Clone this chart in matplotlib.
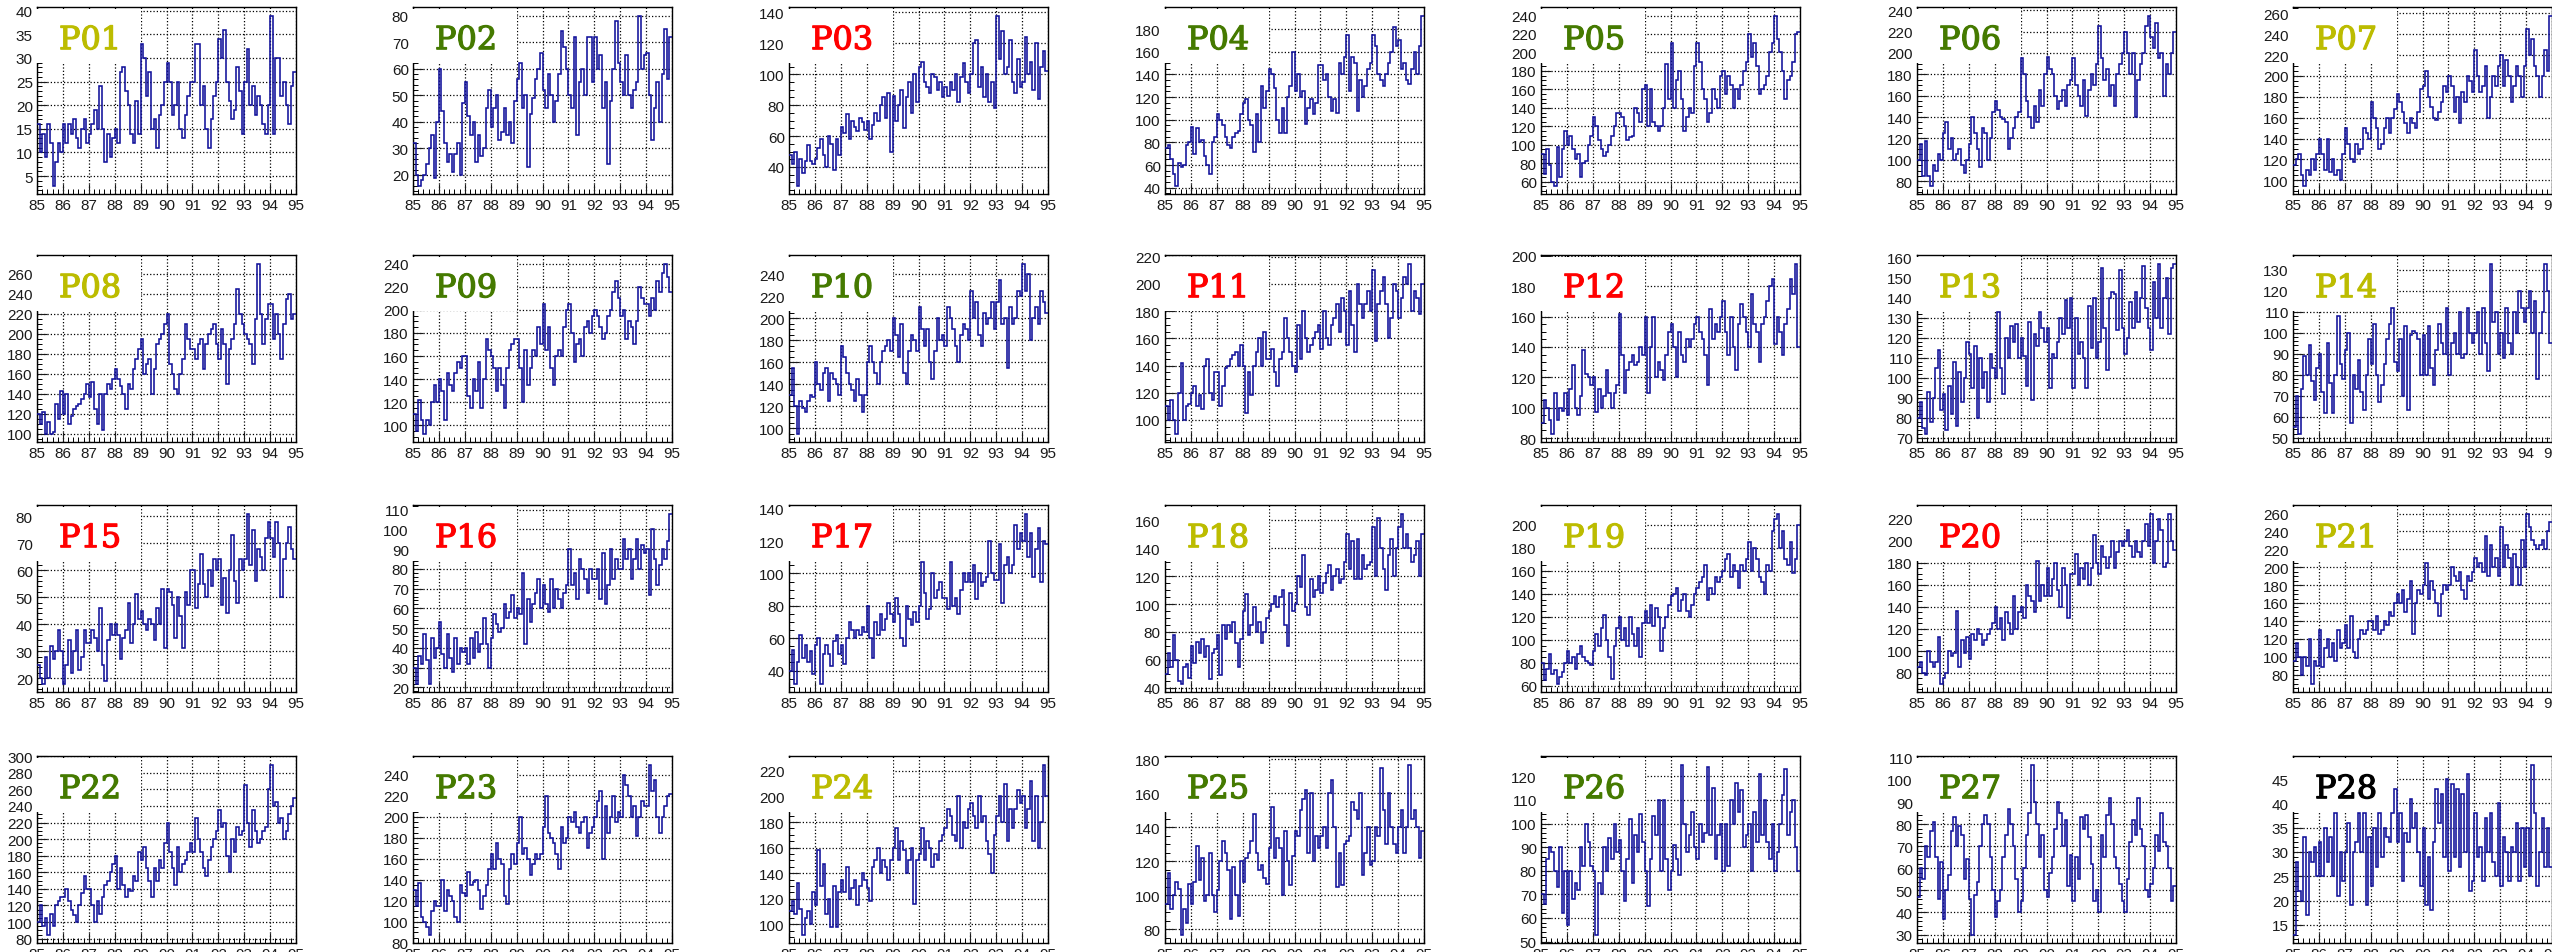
import numpy as np
import matplotlib
matplotlib.use("Agg")
import matplotlib.pyplot as plt
import matplotlib.patheffects as pe
from matplotlib.ticker import MultipleLocator, AutoMinorLocator
from matplotlib.patches import Rectangle

# x axis: years 85..95, 10 values per year in every series
years = list(range(85, 96))

p01 = [16, 10, 14, 9, 16, 12, 3, 8, 12, 10,
       16, 12, 16, 14, 17, 13, 11, 15, 17, 12,
       14, 16, 19, 15, 24, 15, 8, 14, 9, 13,
       15, 12, 27, 28, 23, 20, 14, 12, 21, 14,
       33, 30, 22, 27, 15, 17, 11, 18, 20, 25,
       29, 25, 18, 20, 25, 15, 13, 18, 22, 25,
       25, 33, 33, 20, 24, 15, 11, 17, 22, 25,
       34, 30, 36, 25, 21, 17, 19, 28, 23, 14,
       25, 32, 20, 24, 18, 22, 20, 16, 14, 20,
       39, 14, 30, 30, 22, 25, 20, 16, 24, 27]
p02 = [32, 20, 16, 18, 20, 24, 30, 35, 19, 40,
       60, 44, 32, 25, 28, 21, 28, 32, 20, 47,
       55, 42, 35, 40, 25, 35, 27, 30, 45, 52,
       38, 45, 50, 33, 36, 45, 35, 40, 32, 48,
       56, 62, 45, 50, 23, 43, 49, 56, 60, 66,
       52, 45, 58, 50, 40, 48, 58, 74, 68, 60,
       50, 45, 72, 35, 55, 60, 50, 72, 72, 55,
       72, 60, 65, 45, 55, 24, 48, 60, 78, 62,
       55, 50, 65, 50, 45, 52, 55, 80, 60, 65,
       66, 50, 33, 45, 55, 40, 58, 75, 56, 72]
p03 = [48, 42, 50, 28, 45, 36, 44, 54, 44, 42,
       45, 52, 58, 48, 40, 60, 55, 38, 58, 48,
       66, 62, 74, 58, 70, 66, 63, 72, 69, 64,
       70, 58, 67, 75, 70, 80, 85, 72, 88, 50,
       86, 70, 80, 90, 65, 85, 95, 75, 100, 82,
       105, 108, 95, 92, 88, 100, 98, 90, 95, 85,
       92, 86, 95, 90, 100, 82, 98, 107, 95, 88,
       100, 120, 122, 92, 105, 85, 100, 82, 95, 78,
       138, 110, 128, 100, 105, 122, 95, 88, 110, 92,
       95, 124, 100, 108, 90, 120, 84, 105, 115, 102]
p04 = [75, 78, 65, 52, 42, 62, 58, 60, 78, 80,
       94, 70, 93, 80, 82, 68, 60, 52, 80, 85,
       105, 100, 95, 85, 78, 75, 85, 88, 90, 105,
       115, 118, 100, 95, 72, 105, 80, 130, 110, 125,
       145, 140, 128, 100, 88, 110, 88, 120, 130, 160,
       125, 140, 120, 125, 96, 110, 118, 105, 115, 148,
       148, 135, 140, 120, 108, 118, 106, 150, 140, 155,
       175, 125, 155, 150, 108, 135, 120, 130, 145, 150,
       175, 165, 140, 135, 130, 140, 150, 160, 182, 165,
       170, 145, 150, 135, 132, 145, 160, 140, 165, 192]
p05 = [90, 68, 95, 78, 60, 56, 98, 65, 95, 115,
       100, 110, 95, 85, 90, 65, 80, 82, 100, 110,
       130, 120, 105, 95, 88, 92, 100, 110, 120, 135,
       135, 130, 120, 105, 108, 110, 140, 135, 125, 160,
       165, 120, 160, 125, 120, 115, 120, 140, 188, 150,
       210, 140, 170, 180, 150, 115, 130, 140, 135, 185,
       210, 190, 160, 150, 125, 135, 160, 150, 140, 175,
       180, 155, 175, 165, 140, 160, 150, 165, 180, 190,
       220, 195, 210, 185, 155, 160, 165, 175, 200, 210,
       240, 215, 200, 180, 150, 170, 175, 190, 220, 222]
p06 = [100, 115, 85, 118, 85, 76, 95, 90, 105, 100,
       125, 135, 110, 120, 100, 105, 110, 95, 88, 100,
       115, 140, 125, 110, 93, 130, 125, 100, 120, 145,
       155, 147, 140, 138, 135, 110, 120, 130, 140, 145,
       195, 180, 155, 140, 130, 150, 135, 165, 150, 180,
       196, 185, 180, 160, 148, 155, 165, 150, 170, 175,
       195, 170, 160, 150, 175, 141, 165, 180, 170, 190,
       225, 195, 175, 185, 160, 170, 150, 180, 190, 200,
       220, 200, 180, 200, 140, 175, 190, 200, 225, 235,
       215, 205, 228, 195, 200, 160, 190, 180, 200, 220]
p07 = [115, 120, 125, 105, 95, 110, 105, 120, 110, 125,
       140, 125, 110, 140, 108, 120, 105, 110, 100, 125,
       150, 135, 120, 118, 135, 125, 130, 150, 145, 140,
       175, 160, 150, 130, 135, 150, 160, 145, 160, 168,
       183, 175, 165, 155, 145, 160, 155, 150, 165, 188,
       190, 205, 180, 170, 160, 158, 165, 175, 190, 185,
       200, 190, 165, 180, 155, 185, 175, 200, 195, 185,
       225, 200, 185, 190, 210, 160, 180, 200, 190, 210,
       220, 190, 215, 200, 175, 190, 210, 200, 180, 210,
       245, 220, 235, 210, 200, 180, 200, 225, 205, 258]
p08 = [120, 110, 122, 100, 112, 100, 102, 130, 115, 143,
       120, 140, 110, 118, 125, 128, 130, 135, 140, 150,
       137, 152, 125, 110, 140, 104, 140, 150, 145, 155,
       165, 155, 148, 140, 125, 150, 145, 165, 175, 185,
       195, 160, 170, 175, 140, 165, 190, 195, 200, 210,
       220, 170, 160, 145, 140, 160, 175, 210, 195, 185,
       185, 175, 190, 195, 165, 190, 200, 205, 210, 190,
       175, 205, 190, 150, 185, 195, 210, 245, 220, 210,
       200, 195, 190, 170, 215, 270, 220, 190, 215, 230,
       230, 195, 220, 200, 175, 210, 235, 240, 215, 220]
p09 = [110, 95, 122, 105, 93, 105, 100, 120, 135, 120,
       140, 130, 105, 145, 135, 130, 145, 155, 150, 160,
       160, 125, 115, 140, 130, 155, 115, 140, 175, 165,
       160, 150, 130, 150, 135, 115, 150, 165, 170, 175,
       175, 150, 120, 165, 135, 150, 165, 160, 185, 170,
       205, 165, 185, 150, 135, 160, 165, 160, 185, 200,
       205, 180, 155, 170, 175, 160, 185, 190, 180, 195,
       200, 195, 185, 175, 180, 195, 200, 215, 225, 210,
       195, 200, 175, 190, 185, 170, 190, 220, 210, 205,
       205, 195, 210, 200, 225, 215, 232, 240, 228, 215]
p10 = [130, 155, 120, 95, 125, 118, 115, 125, 130, 128,
       160, 140, 135, 150, 155, 125, 150, 145, 140, 130,
       175, 165, 150, 140, 135, 125, 145, 130, 115, 130,
       160, 175, 160, 150, 140, 160, 170, 175, 180, 170,
       200, 185, 165, 195, 150, 140, 170, 185, 180, 170,
       210, 190, 175, 190, 160, 145, 170, 200, 180, 185,
       175, 210, 200, 190, 175, 160, 185, 195, 190, 180,
       225, 200, 215, 185, 175, 205, 195, 200, 215, 190,
       215, 235, 195, 200, 155, 210, 195, 200, 225, 220,
       250, 225, 240, 180, 200, 210, 195, 225, 215, 205]
p11 = [110, 100, 115, 100, 90, 120, 142, 100, 110, 112,
       120, 125, 110, 118, 108, 140, 145, 120, 115, 135,
       135, 110, 125, 138, 140, 145, 148, 150, 140, 155,
       140, 105, 135, 118, 140, 150, 160, 140, 165, 145,
       145, 152, 135, 125, 145, 150, 175, 160, 150, 140,
       135, 170, 145, 180, 160, 150, 155, 160, 165, 170,
       152, 180, 160, 155, 170, 175, 185, 165, 190, 180,
       155, 195, 170, 150, 200, 185, 175, 185, 195, 180,
       210, 158, 185, 195, 205, 185, 160, 175, 200, 195,
       175, 190, 205, 200, 215, 180, 195, 190, 178, 200]
p12 = [90, 105, 100, 92, 83, 110, 92, 100, 98, 110,
       95, 112, 128, 100, 95, 108, 138, 122, 120, 115,
       120, 97, 112, 100, 108, 125, 110, 100, 110, 115,
       162, 135, 110, 125, 130, 135, 128, 130, 140, 135,
       160, 110, 140, 160, 120, 130, 125, 118, 135, 150,
       155, 140, 120, 150, 135, 130, 145, 140, 145, 155,
       160, 150, 145, 135, 115, 165, 145, 155, 150, 160,
       170, 150, 135, 160, 140, 125, 155, 168, 160, 150,
       140, 175, 155, 150, 130, 155, 160, 170, 180, 185,
       142, 160, 150, 135, 155, 165, 185, 175, 195, 140]
p13 = [80, 88, 75, 72, 93, 78, 90, 105, 114, 84,
       92, 74, 96, 82, 108, 76, 103, 88, 100, 118,
       112, 95, 116, 80, 110, 95, 103, 88, 112, 105,
       100, 133, 105, 92, 120, 110, 126, 118, 127, 110,
       120, 111, 96, 128, 89, 122, 116, 133, 125, 118,
       125, 95, 112, 110, 118, 130, 122, 139, 125, 140,
       95, 130, 112, 118, 110, 95, 136, 115, 140, 110,
       118, 155, 125, 104, 140, 143, 142, 124, 154, 125,
       112, 120, 138, 125, 143, 128, 140, 156, 135, 125,
       114, 148, 130, 157, 125, 140, 150, 122, 155, 157]
p14 = [55, 70, 52, 73, 89, 80, 94, 77, 68, 83,
       90, 72, 62, 95, 76, 62, 80, 108, 85, 78,
       92, 100, 57, 80, 73, 87, 72, 63, 80, 97,
       85, 104, 80, 67, 75, 85, 97, 104, 112, 86,
       82, 97, 70, 103, 63, 99, 101, 100, 97, 80,
       99, 80, 103, 83, 75, 92, 104, 95, 90, 112,
       80, 95, 100, 90, 110, 88, 90, 112, 100, 95,
       100, 110, 90, 112, 95, 82, 133, 105, 110, 90,
       100, 88, 112, 95, 90, 110, 100, 120, 112, 105,
       112, 120, 100, 115, 78, 100, 110, 133, 120, 95]
p15 = [25, 20, 18, 28, 20, 32, 27, 30, 38, 30,
       18, 25, 34, 22, 30, 38, 23, 28, 38, 33,
       33, 38, 35, 30, 46, 25, 19, 34, 40, 36,
       40, 36, 27, 35, 38, 48, 33, 40, 51, 42,
       45, 40, 38, 42, 40, 34, 46, 40, 53, 31,
       53, 52, 47, 35, 50, 43, 31, 52, 47, 60,
       60, 46, 55, 66, 55, 50, 60, 54, 64, 60,
       64, 47, 57, 44, 60, 73, 56, 48, 64, 60,
       64, 81, 62, 75, 56, 68, 65, 60, 72, 78,
       72, 65, 78, 70, 50, 64, 70, 76, 68, 64]
p16 = [30, 22, 36, 32, 47, 34, 22, 45, 35, 40,
       53, 37, 30, 47, 35, 28, 45, 32, 40, 38,
       40, 32, 45, 35, 48, 38, 42, 55, 42, 30,
       45, 57, 52, 48, 50, 62, 55, 58, 67, 55,
       60, 57, 78, 42, 65, 53, 62, 68, 75, 60,
       72, 62, 58, 75, 60, 70, 65, 60, 68, 72,
       90, 72, 78, 65, 85, 80, 75, 68, 80, 75,
       75, 80, 65, 88, 62, 72, 90, 75, 85, 80,
       80, 95, 85, 90, 75, 85, 95, 80, 92, 88,
       90, 67, 100, 85, 72, 82, 90, 85, 94, 108]
p17 = [40, 53, 32, 45, 62, 48, 56, 45, 52, 38,
       56, 60, 32, 50, 56, 50, 43, 58, 62, 50,
       56, 44, 60, 70, 65, 60, 65, 62, 67, 64,
       80, 60, 48, 70, 62, 75, 65, 72, 82, 75,
       70, 85, 75, 60, 55, 80, 72, 68, 76, 70,
       80, 107, 88, 72, 78, 100, 85, 90, 95, 85,
       85, 78, 107, 80, 85, 75, 90, 100, 95, 100,
       95, 105, 84, 100, 92, 95, 98, 120, 100, 96,
       96, 118, 82, 105, 110, 100, 105, 130, 115, 125,
       120, 137, 110, 125, 98, 115, 128, 95, 120, 118]
p18 = [50, 65, 55, 78, 60, 45, 43, 55, 57, 47,
       70, 58, 73, 65, 75, 62, 70, 46, 65, 68,
       78, 49, 85, 75, 85, 80, 87, 72, 55, 75,
       95, 107, 78, 85, 98, 80, 87, 72, 80, 90,
       95, 100, 106, 98, 105, 110, 85, 70, 108, 95,
       100, 120, 112, 135, 98, 92, 118, 105, 110, 120,
       108, 115, 122, 128, 110, 120, 125, 115, 118, 130,
       150, 125, 145, 118, 147, 118, 135, 125, 128, 130,
       155, 120, 162, 140, 125, 110, 135, 147, 120, 140,
       155, 165, 140, 150, 140, 130, 135, 145, 120, 150]
p19 = [80, 65, 75, 88, 70, 74, 62, 68, 72, 80,
       90, 80, 85, 75, 88, 95, 85, 82, 80, 78,
       90, 105, 95, 110, 122, 100, 85, 66, 95, 110,
       120, 100, 110, 95, 120, 105, 95, 110, 85, 115,
       125, 115, 130, 112, 128, 120, 90, 110, 120, 130,
       138, 140, 145, 125, 135, 140, 125, 120, 130, 140,
       145, 150, 155, 165, 135, 145, 140, 155, 150, 155,
       160, 170, 175, 155, 165, 160, 145, 165, 160, 170,
       185, 160, 180, 170, 155, 150, 140, 165, 160, 195,
       205, 210, 180, 195, 170, 165, 185, 158, 170, 200]
p20 = [85, 90, 80, 78, 100, 90, 85, 90, 112, 70,
       75, 80, 100, 95, 98, 136, 85, 110, 98, 112,
       92, 115, 110, 120, 115, 105, 110, 115, 120, 125,
       140, 120, 130, 110, 135, 125, 115, 150, 120, 135,
       140, 130, 160, 150, 145, 135, 182, 145, 160, 150,
       175, 150, 165, 180, 155, 140, 175, 160, 130, 170,
       170, 188, 160, 175, 165, 180, 160, 175, 205, 180,
       170, 195, 185, 175, 185, 200, 175, 190, 200, 195,
       200, 210, 195, 185, 200, 190, 185, 200, 215, 195,
       225, 180, 200, 220, 210, 176, 180, 225, 200, 192]
p21 = [95, 115, 100, 80, 100, 90, 120, 70, 95, 90,
       130, 88, 110, 120, 100, 115, 95, 130, 110, 115,
       135, 110, 145, 105, 98, 120, 130, 125, 130, 140,
       140, 130, 145, 125, 130, 140, 135, 150, 145, 160,
       170, 160, 175, 150, 165, 185, 125, 160, 175, 170,
       180, 205, 165, 185, 175, 160, 145, 170, 180, 175,
       180, 200, 190, 185, 195, 175, 165, 190, 185, 195,
       210, 200, 205, 195, 235, 190, 225, 200, 210, 190,
       245, 200, 225, 210, 180, 215, 200, 180, 230, 200,
       260, 245, 230, 225, 220, 225, 230, 220, 240, 250]
p22 = [100, 120, 95, 105, 85, 110, 95, 120, 125, 130,
       130, 140, 125, 115, 108, 100, 120, 135, 155, 140,
       140, 120, 100, 125, 110, 130, 145, 150, 160, 170,
       180, 140, 165, 145, 130, 140, 138, 155, 150, 185,
       175, 190, 165, 150, 130, 165, 150, 175, 165, 195,
       220, 185, 165, 145, 190, 160, 170, 175, 185, 195,
       185, 225, 200, 185, 165, 155, 175, 190, 200, 210,
       235, 215, 220, 180, 160, 200, 185, 215, 205, 210,
       265, 220, 190, 235, 210, 195, 200, 210, 215, 260,
       290, 240, 245, 220, 225, 200, 210, 230, 240, 250]
p23 = [130, 115, 137, 105, 100, 95, 88, 110, 120, 115,
       115, 140, 110, 130, 125, 120, 105, 100, 135, 128,
       125, 148, 135, 138, 140, 130, 112, 125, 135, 150,
       165, 150, 175, 160, 155, 125, 117, 150, 165, 155,
       175, 200, 165, 170, 160, 145, 155, 165, 160, 165,
       190, 220, 185, 180, 175, 165, 150, 190, 175, 180,
       200, 195, 205, 190, 185, 195, 200, 170, 185, 190,
       200, 215, 225, 160, 210, 185, 200, 220, 195, 205,
       200, 240, 230, 220, 200, 210, 182, 200, 215, 210,
       210, 250, 225, 235, 200, 185, 200, 210, 220, 222]
p24 = [110, 118, 108, 132, 112, 92, 105, 110, 100, 125,
       115, 158, 130, 147, 108, 120, 98, 130, 98, 125,
       135, 125, 145, 120, 128, 135, 115, 130, 140, 135,
       128, 118, 145, 150, 160, 140, 150, 145, 135, 150,
       160, 175, 150, 165, 158, 140, 150, 160, 116, 150,
       155, 175, 150, 165, 160, 145, 155, 150, 165, 170,
       175, 190, 185, 170, 165, 200, 160, 180, 175, 190,
       195, 185, 175, 200, 180, 185, 165, 155, 140, 170,
       185, 200, 180, 210, 165, 190, 175, 190, 205, 195,
       200, 175, 190, 212, 165, 200, 160, 180, 225, 200]
p25 = [95, 113, 92, 100, 108, 104, 77, 92, 84, 107,
       95, 108, 129, 109, 122, 97, 100, 125, 100, 90,
       103, 120, 132, 125, 115, 86, 117, 100, 88, 120,
       108, 122, 125, 132, 148, 125, 115, 118, 110, 107,
       128, 152, 122, 134, 128, 100, 138, 120, 106, 123,
       138, 135, 150, 157, 162, 125, 160, 120, 135, 128,
       135, 140, 128, 160, 168, 140, 105, 125, 106, 130,
       132, 135, 155, 150, 145, 160, 112, 125, 140, 118,
       120, 140, 135, 175, 150, 130, 160, 140, 130, 125,
       140, 150, 125, 140, 177, 145, 150, 140, 122, 138]
p26 = [70, 66, 85, 90, 88, 80, 73, 90, 62, 80,
       57, 80, 68, 75, 72, 90, 82, 100, 92, 82,
       80, 53, 75, 70, 90, 80, 94, 85, 100, 88,
       93, 80, 67, 85, 102, 75, 95, 88, 104, 92,
       80, 65, 85, 103, 95, 110, 80, 110, 85, 72,
       80, 91, 85, 78, 125, 100, 88, 95, 105, 90,
       85, 100, 92, 96, 124, 95, 115, 85, 95, 100,
       80, 100, 82, 110, 100, 117, 105, 114, 90, 95,
       100, 80, 105, 92, 121, 95, 110, 92, 85, 100,
       80, 88, 100, 112, 123, 95, 105, 110, 90, 80]
p27 = [47, 60, 55, 70, 65, 77, 81, 65, 46, 63,
       37, 50, 57, 77, 83, 70, 79, 75, 55, 64,
       46, 30, 48, 54, 70, 80, 84, 80, 65, 50,
       38, 45, 50, 65, 75, 87, 80, 70, 55, 40,
       45, 60, 75, 85, 107, 90, 80, 65, 75, 50,
       47, 58, 65, 78, 90, 85, 70, 82, 52, 66,
       45, 65, 55, 83, 78, 84, 74, 62, 45, 50,
       40, 75, 65, 84, 92, 80, 65, 60, 53, 45,
       40, 55, 72, 82, 75, 92, 78, 70, 50, 47,
       53, 60, 75, 68, 85, 72, 70, 60, 45, 52]
p28 = [13, 28, 22, 20, 33, 17, 30, 28, 31, 25,
       32, 25, 35, 28, 33, 25, 38, 21, 30, 24,
       30, 36, 19, 30, 32, 38, 30, 38, 19, 33,
       23, 35, 27, 38, 29, 35, 33, 32, 38, 43,
       32, 38, 24, 34, 32, 41, 35, 38, 30, 23,
       35, 19, 29, 18, 32, 43, 36, 42, 29, 45,
       26, 44, 29, 43, 27, 42, 30, 46, 22, 24,
       38, 29, 31, 24, 37, 30, 38, 28, 25, 40,
       23, 33, 30, 24, 31, 30, 36, 24, 35, 27,
       35, 25, 48, 38, 23, 30, 37, 27, 35, 27]

series = [p01, p02, p03, p04, p05, p06, p07,
          p08, p09, p10, p11, p12, p13, p14,
          p15, p16, p17, p18, p19, p20, p21,
          p22, p23, p24, p25, p26, p27, p28]
names = ["P%02d" % (i + 1) for i in range(len(series))]

YEL = "#bcbc00"
GRN = "#457a00"
RED = "#ff0000"
BLK = "#000000"
label_colors = [YEL, GRN, RED, GRN, GRN, GRN, YEL,
                YEL, GRN, GRN, RED, RED, YEL, YEL,
                RED, RED, RED, YEL, YEL, RED, YEL,
                GRN, GRN, YEL, GRN, GRN, GRN, BLK]

W, H = 2552, 953
fig = plt.figure(figsize=(W / 100, H / 100), dpi=100)

row_top = [8, 256, 506, 757]
ax_w, ax_h = 259, 187

for k, vals in enumerate(series):
    r, c = divmod(k, 7)
    left = 37 + 376 * c
    ax = fig.add_axes([left / W, 1 - (row_top[r] + ax_h) / H, ax_w / W, ax_h / H])

    edges = np.linspace(years[0], years[-1], len(vals) + 1)
    ax.stairs(vals, edges, baseline=None, color="#10109a", lw=1.15, zorder=3)

    # ROOT-like y range: 5% margin around data
    lo, hi = min(vals), max(vals)
    span = hi - lo
    ax.set_ylim(lo - 0.05 * span, hi + 0.05 * span)
    ax.set_xlim(years[0], years[-1])

    full = span * 1.1
    if full <= 45:
        step = 5
    elif full <= 95:
        step = 10
    else:
        step = 20
    ax.yaxis.set_major_locator(MultipleLocator(step))
    ax.yaxis.set_minor_locator(AutoMinorLocator())
    ax.set_xticks(years)
    ax.set_xticklabels([str(y) for y in years])
    ax.xaxis.set_minor_locator(AutoMinorLocator(5))

    ax.tick_params(which="major", direction="in", length=7, width=0.8,
                   labelsize=11, pad=3, colors="#1a1a1a")
    ax.tick_params(which="minor", direction="in", length=3.5, width=0.7)
    for lab in ax.get_xticklabels() + ax.get_yticklabels():
        lab.set_fontfamily("Liberation Sans")

    ax.grid(True, which="major", ls=":", lw=0.9, color="black")
    for s in ax.spines.values():
        s.set_linewidth(1.0)

    # white label box like the ROOT pave
    ax.add_patch(Rectangle((-0.006, 0.70), 0.406, 0.29, transform=ax.transAxes,
                           facecolor="white", edgecolor="none", zorder=2.6, clip_on=False))
    ax.text(0.085, 0.82, names[k], transform=ax.transAxes, fontsize=23,
            family="DejaVu Serif", color=label_colors[k],
            va="center", ha="left", zorder=4,
            path_effects=[pe.withStroke(linewidth=0.9, foreground=label_colors[k])])

fig.savefig("out.png", dpi=100)
